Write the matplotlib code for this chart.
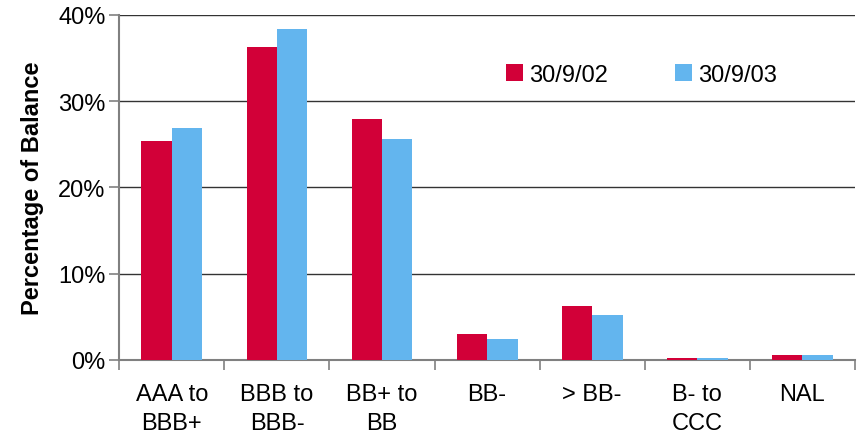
import numpy as np
import matplotlib.pyplot as plt
from matplotlib.ticker import FuncFormatter

plt.rcParams['font.family'] = ['Liberation Sans', 'DejaVu Sans']

categories = ['AAA to\nBBB+', 'BBB to\nBBB-', 'BB+ to\nBB', 'BB-', '> BB-', 'B- to\nCCC', 'NAL']
sep_02 = [25.4, 36.3, 27.9, 3.0, 6.2, 0.25, 0.6]
sep_03 = [26.9, 38.4, 25.6, 2.4, 5.2, 0.2, 0.6]
series_names = ['30/9/02', '30/9/03']

red = '#D20038'
blue = '#63B5EE'
axis_col = '#808080'

fig = plt.figure(figsize=(8.59, 4.39), dpi=100)
ax = fig.add_axes([0.139, 0.178, 0.856, 0.786])

x = np.arange(len(categories))
w = 0.29
ax.bar(x - w / 2, sep_02, w, color=red, label=series_names[0], zorder=3)
ax.bar(x + w / 2, sep_03, w, color=blue, label=series_names[1], zorder=3)

ax.set_xlim(-0.5, len(categories) - 0.5)
ax.set_ylim(0, 40)
ax.set_yticks([0, 10, 20, 30, 40])
ax.yaxis.set_major_formatter(FuncFormatter(lambda v, p: '%d%%' % v))
ax.grid(axis='y', color='#333333', lw=1, zorder=0)

# category labels between boundary ticks
ax.set_xticks(x)
ax.set_xticklabels(categories, fontsize=17, linespacing=1.4)
ax.tick_params(axis='x', length=0, pad=17)
ax.set_xticks(np.arange(len(categories) + 1) - 0.5, minor=True)
ax.tick_params(axis='x', which='minor', length=7, color=axis_col, width=1.2)
ax.tick_params(axis='y', length=7, color=axis_col, width=1.2, labelsize=17, pad=3)

for s in ['top', 'right']:
    ax.spines[s].set_visible(False)
for s in ['left', 'bottom']:
    ax.spines[s].set_color(axis_col)
    ax.spines[s].set_linewidth(1.5)

ax.set_ylabel('Percentage of Balance', fontsize=17, fontweight='bold', labelpad=10)

ax.legend(loc='center left', ncol=2, frameon=False, fontsize=17,
          handlelength=0.72, handleheight=0.72, handletextpad=0.25, columnspacing=2.85)
leg = ax.get_legend()
leg.set_bbox_to_anchor((0.564, 0.827), transform=fig.transFigure)

fig.savefig('out.png', dpi=100)
